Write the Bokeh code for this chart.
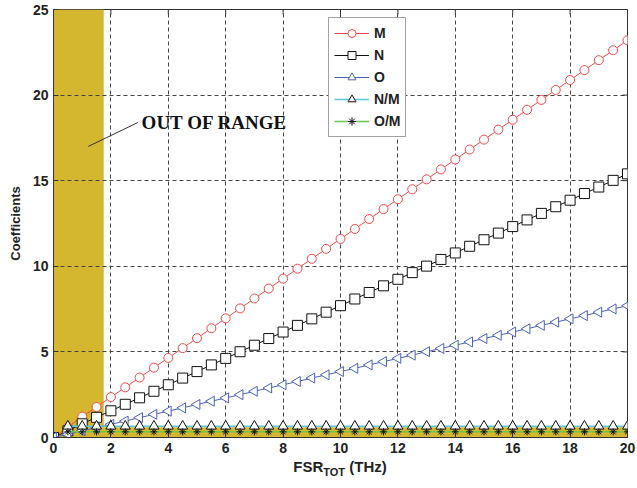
from bokeh.plotting import figure
from bokeh.models import (Range1d, FixedTicker, Legend, LegendItem, Label,
                          BoxAnnotation, Div)
from bokeh.layouts import column
from bokeh.embed import file_html
from bokeh.resources import INLINE
import math

# ---- data ----
fsr = [0.0, 0.5, 1.0, 1.5, 2.0, 2.5, 3.0, 3.5, 4.0, 4.5, 5.0, 5.5, 6.0, 6.5, 7.0,
       7.5, 8.0, 8.5, 9.0, 9.5, 10.0, 10.5, 11.0, 11.5, 12.0, 12.5, 13.0, 13.5,
       14.0, 14.5, 15.0, 15.5, 16.0, 16.5, 17.0, 17.5, 18.0, 18.5, 19.0, 19.5, 20.0]
M = [0.0, 0.60, 1.22, 1.78, 2.36, 2.93, 3.50, 4.08, 4.65, 5.22, 5.80, 6.38, 6.96,
     7.54, 8.12, 8.70, 9.28, 9.86, 10.44, 11.02, 11.60, 12.18, 12.76, 13.34, 13.92,
     14.50, 15.08, 15.66, 16.24, 16.82, 17.40, 17.98, 18.56, 19.14, 19.72, 20.30,
     20.88, 21.46, 22.04, 22.62, 23.20]
N = [0.0, 0.39, 0.80, 1.18, 1.56, 1.94, 2.32, 2.70, 3.08, 3.47, 3.85, 4.24, 4.62,
     5.01, 5.39, 5.78, 6.16, 6.55, 6.93, 7.32, 7.70, 8.09, 8.47, 8.86, 9.24, 9.63,
     10.01, 10.40, 10.78, 11.17, 11.55, 11.94, 12.32, 12.71, 13.09, 13.48, 13.86,
     14.25, 14.63, 15.02, 15.40]
O = [0.0, 0.19, 0.39, 0.58, 0.77, 0.96, 1.16, 1.35, 1.54, 1.73, 1.93, 2.12, 2.31,
     2.50, 2.70, 2.89, 3.08, 3.27, 3.47, 3.66, 3.85, 4.04, 4.24, 4.43, 4.62, 4.81,
     5.01, 5.20, 5.39, 5.58, 5.78, 5.97, 6.16, 6.35, 6.55, 6.74, 6.93, 7.12, 7.32,
     7.51, 7.70]
fsr_ratio = fsr[1:]
NM = [0.66, 0.66, 0.66, 0.66, 0.66, 0.66, 0.66, 0.66, 0.66, 0.66, 0.66, 0.66,
      0.66, 0.66, 0.66, 0.66, 0.66, 0.66, 0.66, 0.66, 0.66, 0.66, 0.66, 0.66,
      0.66, 0.66, 0.66, 0.66, 0.66, 0.66, 0.66, 0.66, 0.66, 0.66, 0.66, 0.66,
      0.66, 0.66, 0.66, 0.66]
OM = [0.33, 0.33, 0.33, 0.33, 0.33, 0.33, 0.33, 0.33, 0.33, 0.33, 0.33, 0.33,
      0.33, 0.33, 0.33, 0.33, 0.33, 0.33, 0.33, 0.33, 0.33, 0.33, 0.33, 0.33,
      0.33, 0.33, 0.33, 0.33, 0.33, 0.33, 0.33, 0.33, 0.33, 0.33, 0.33, 0.33,
      0.33, 0.33, 0.33, 0.33]
x_ticks = [0, 2, 4, 6, 8, 10, 12, 14, 16, 18, 20]
y_ticks = [0, 5, 10, 15, 20, 25]
out_of_range_x = 1.75     # upper edge of the out-of-range band (THz)
band_y = 0.6              # height of the bottom band

FONT = "Liberation Sans"
YELLOW = "#D5B62F"
AXC = "#333333"

FW, FH = 574, 428
BL, BR = 53, 10
X0, X1, Y0, Y1 = 0, 20, 0, 25
p = figure(frame_width=FW, frame_height=FH, output_backend="svg",
           toolbar_location=None, x_range=Range1d(X0, X1), y_range=Range1d(Y0, Y1),
           min_border_left=BL, min_border_right=BR, min_border_top=9,
           min_border_bottom=22)
p.background_fill_color = "white"
p.border_fill_color = "white"
p.outline_line_color = AXC
p.outline_line_width = 1

# axes
for ax in (p.xaxis[0], p.yaxis[0]):
    ax.major_tick_in = 5
    ax.major_tick_out = 0
    ax.minor_tick_line_color = None
    ax.axis_line_color = AXC
    ax.major_tick_line_color = AXC
    ax.major_label_text_font = FONT
    ax.major_label_text_font_style = "bold"
    ax.major_label_text_font_size = "14px"
    ax.major_label_text_color = "#222222"
p.xaxis[0].ticker = FixedTicker(ticks=x_ticks)
p.yaxis[0].ticker = FixedTicker(ticks=y_ticks)
p.xaxis[0].major_label_standoff = 5
p.yaxis[0].major_label_standoff = 5
p.yaxis[0].axis_label = "Coefficients"
p.yaxis[0].axis_label_text_font = FONT
p.yaxis[0].axis_label_text_font_style = "bold"
p.yaxis[0].axis_label_text_font_size = "13px"
p.yaxis[0].axis_label_text_color = "#222222"
p.yaxis[0].axis_label_standoff = 7

# grid (drawn above the shaded bands, below the data)
for g in (p.xgrid[0], p.ygrid[0]):
    g.grid_line_color = "#444444"
    g.grid_line_dash = "4 3"
    g.grid_line_width = 1
p.xgrid[0].ticker = FixedTicker(ticks=x_ticks)
p.ygrid[0].ticker = FixedTicker(ticks=y_ticks)

# out-of-range shaded areas
band_v = BoxAnnotation(left=X0, right=out_of_range_x, fill_color=YELLOW,
                       fill_alpha=1.0, line_color=None, level="underlay")
band_h = BoxAnnotation(bottom=Y0, top=band_y, fill_color=YELLOW,
                       fill_alpha=1.0, line_color=None, level="underlay")
p.center = [band_v, band_h] + list(p.center)

# inward ticks on the top and right edges of the box
tick_dy = 5 * (Y1 - Y0) / FH
tick_dx = 5 * (X1 - X0) / FW
p.segment(x0=x_ticks, x1=x_ticks, y0=[Y1] * len(x_ticks),
          y1=[Y1 - tick_dy] * len(x_ticks), line_color=AXC, line_width=1)
p.segment(x0=[X1] * len(y_ticks), x1=[X1 - tick_dx] * len(y_ticks),
          y0=y_ticks, y1=y_ticks, line_color=AXC, line_width=1)

# series
RED, BLACK, BLUE, CYAN, GREEN = "#F04848", "#111111", "#4A64B4", "#5CC8DA", "#6CC84A"

lM = p.line(fsr, M, line_color=RED, line_width=1)
sM = p.scatter(fsr, M, marker="circle", size=9, line_color=RED, fill_color="white",
               line_width=1)
lN = p.line(fsr, N, line_color=BLACK, line_width=1)
sN = p.scatter(fsr, N, marker="square", size=10, line_color=BLACK, fill_color="white",
               line_width=1)
lO = p.line(fsr, O, line_color=BLUE, line_width=1)
sO = p.scatter(fsr, O, marker="triangle", angle=math.pi / 2, size=10, line_color=BLUE,
               fill_color="white", line_width=1)
lNM = p.line(fsr_ratio, NM, line_color=CYAN, line_width=1.5)
sNM = p.scatter(fsr_ratio, NM, marker="triangle", size=10, line_color=BLACK,
                fill_color="white", line_width=1)
lOM = p.line(fsr_ratio, OM, line_color=GREEN, line_width=1.5)
sOM = p.scatter(fsr_ratio, OM, marker="asterisk", size=7, line_color=BLACK,
                line_width=1)

legend = Legend(items=[
    LegendItem(label="M", renderers=[lM, sM]),
    LegendItem(label="N", renderers=[lN, sN]),
    LegendItem(label="O", renderers=[lO, sO]),
    LegendItem(label="N/M", renderers=[lNM, sNM]),
    LegendItem(label="O/M", renderers=[lOM, sOM]),
], location=(275, 300))
legend.label_text_font = FONT
legend.label_text_font_style = "bold"
legend.label_text_font_size = "14px"
legend.label_text_color = "#222222"
legend.glyph_width = 35
legend.glyph_height = 20
legend.label_height = 20
legend.label_standoff = 5
legend.spacing = 2
legend.padding = 5
legend.margin = 0
legend.border_line_color = "#444444"
legend.border_line_width = 1
legend.background_fill_color = "white"
legend.background_fill_alpha = 1.0
p.add_layout(legend, "center")

# annotation: OUT OF RANGE
p.segment(x0=[1.21], y0=[17.0], x1=[2.94], y1=[18.4], line_color="#333333",
          line_width=1)
p.add_layout(Label(x=3.07, y=18.4, text="OUT OF RANGE", text_font="Liberation Serif",
                   text_font_style="bold", text_font_size="19px", text_color="#111111",
                   text_baseline="alphabetic"))

# x-axis label with subscript (HTML text below the figure)
xlabel = Div(
    text=(f'<div style="margin-left:{BL}px;width:{FW}px;text-align:center;'
          'font-family:\'Liberation Sans\',Arial,sans-serif;font-weight:bold;'
          'font-size:15px;line-height:16px;color:#222222;white-space:nowrap;">'
          'FSR<sub style="font-size:11px;vertical-align:-4px;line-height:0;">TOT</sub>'
          ' (THz)</div>'),
    width=BL + FW + BR, height=20, margin=(0, 0, 0, 0))

layout = column(p, xlabel, spacing=0)
open("out.html", "w").write(file_html(layout, INLINE))
